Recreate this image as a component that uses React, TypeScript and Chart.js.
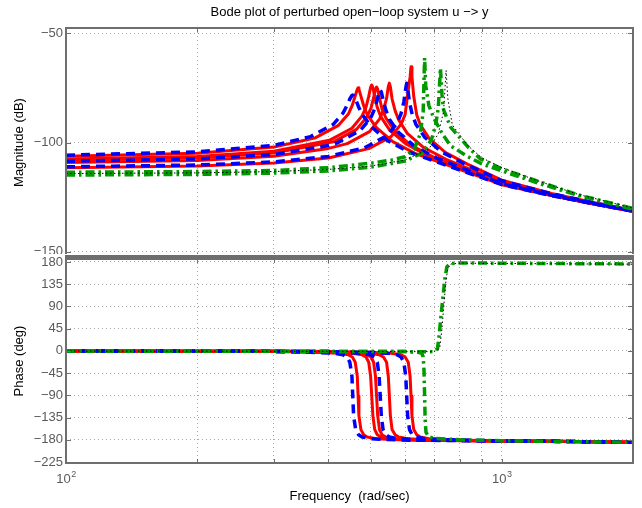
import React, { useEffect, useRef } from "react";
import { Chart, registerables } from "chart.js";

Chart.register(...registerables);

const FONT = '"Liberation Sans", Arial, Helvetica, sans-serif';

const TITLE = "Bode plot of perturbed open\u2212loop system u \u2212> y";
const MAG_LABEL = "Magnitude (dB)";
const PHASE_LABEL = "Phase (deg)";
const FREQ_LABEL = "Frequency  (rad/sec)";

// axis ticks
const freqTicks = [100, 200, 300, 400, 500, 600, 700, 800, 900, 1000, 2000];
const freqLabelTicks = [100, 1000];
const freqLabelExp = ["2", "3"];
const magTicks = [-150, -100, -50];
const phaseTicks = [-225, -180, -135, -90, -45, 0, 45, 90, 135, 180];
const freqRange = [100, 2000];
const magRange = [-152.4, -47.6];
const phaseRange = [-227, 186];

// common phase shape for the red / blue perturbed models
const phaseDrop21 = [-0.3, -0.6, -1.0, -2.8, -4.6, -8.0, -12.4, -23.0, -51.4, -91.3, -131.0, -159.4, -169.8, -174.3, -177.8, -179.6, -180.7, -182.3, -183.0, -184.0, -185.0];
const phaseDrop22 = [-0.3, -0.6, -1.0, -1.4, -2.8, -4.6, -8.0, -12.4, -23.0, -51.4, -91.3, -131.0, -159.4, -169.8, -174.3, -177.8, -179.6, -180.7, -182.3, -183.0, -184.0, -185.0];

// blue dashed models
const blue1Freq = [100, 200, 300, 364, 410, 432, 441, 448, 453, 455, 457, 462, 469, 478, 501, 546, 614, 1000, 1300, 1600, 2000];
const blue1Mag = [-105.8, -104.3, -101.3, -97.3, -91.8, -86.6, -83.2, -80.1, -78.5, -78.3, -78.6, -80.3, -83.6, -87.1, -92.6, -99.1, -104.5, -119.3, -124.3, -127.8, -131.4];
const blue2Freq = [100, 200, 300, 400, 421, 473, 500, 510, 518, 523, 526, 529, 534, 542, 552, 579, 631, 710, 1000, 1300, 1600, 2000];
const blue2Mag = [-108.6, -107.5, -105.5, -101.4, -100.0, -94.5, -88.9, -84.9, -80.3, -76.7, -76.0, -76.8, -80.5, -85.2, -89.3, -95.3, -101.8, -107.2, -118.8, -124.1, -127.7, -131.5];
const blue3Freq = [100, 200, 300, 400, 484, 545, 575, 587, 596, 602, 605, 608, 614, 623, 635, 666, 726, 817, 1000, 1300, 1600, 2000];
const blue3Mag = [-111.1, -110.3, -108.9, -106.4, -102.4, -96.9, -91.2, -86.9, -81.4, -75.2, -72.9, -75.2, -81.6, -87.2, -91.6, -97.7, -104.2, -109.6, -117.5, -123.4, -127.3, -131.2];

// red solid models
const red1Freq = [100, 200, 300, 374, 421, 445, 454, 461, 466, 468, 470, 475, 482, 491, 515, 562, 632, 1000, 1300, 1600, 2000];
const red1Mag = [-106.3, -104.9, -102.1, -97.8, -92.3, -86.8, -82.9, -78.6, -75.6, -75.0, -75.6, -78.8, -83.2, -87.2, -93.1, -99.6, -105.0, -119.3, -124.3, -127.9, -131.5];
const red2Freq = [100, 200, 300, 402, 453, 478, 488, 495, 500, 503, 506, 511, 518, 528, 553, 604, 679, 1000, 1300, 1600, 2000];
const red2Mag = [-107.5, -106.4, -104.0, -99.0, -93.5, -87.8, -83.8, -78.9, -74.7, -73.7, -74.8, -79.1, -84.0, -88.3, -94.3, -100.8, -106.2, -119.0, -124.2, -127.8, -131.5];
const red3Freq = [100, 200, 300, 413, 464, 490, 501, 508, 513, 516, 519, 524, 531, 542, 568, 619, 697, 1000, 1300, 1600, 2000];
const red3Mag = [-108.1, -107.0, -104.8, -99.5, -94.0, -88.4, -84.3, -79.5, -75.5, -74.6, -75.6, -79.7, -84.6, -88.8, -94.8, -101.3, -106.7, -118.9, -124.1, -127.8, -131.5];
const red4Freq = [100, 200, 300, 400, 442, 497, 524, 535, 544, 549, 552, 555, 560, 569, 580, 607, 662, 745, 1000, 1300, 1600, 2000];
const red4Mag = [-109.1, -108.2, -106.3, -102.7, -100.5, -95.0, -89.3, -85.1, -79.8, -74.4, -72.8, -74.5, -80.0, -85.4, -89.7, -95.8, -102.3, -107.7, -118.3, -123.8, -127.5, -131.3];
const red5Freq = [100, 200, 300, 400, 495, 557, 588, 600, 610, 616, 619, 622, 628, 638, 650, 681, 743, 836, 1000, 1300, 1600, 2000];
const red5Mag = [-111.5, -110.8, -109.4, -107.1, -102.8, -97.3, -91.5, -87.2, -76.0, -70.0, -65.3, -70.0, -79.0, -87.4, -91.9, -98.1, -104.6, -110.0, -117.2, -123.3, -127.2, -131.1];

// green dash-dot models
const green1Freq = [100, 200, 300, 400, 500, 560, 600, 630, 650, 660, 665, 669, 680, 697, 730, 763, 836, 900, 1000, 1200, 1500, 2000];
const green1Mag = [-113.6, -113.3, -112.8, -111.5, -109.5, -108.0, -106.5, -103.0, -96.0, -86.0, -61.3, -74.0, -83.0, -88.5, -96.0, -101.5, -106.5, -109.8, -113.0, -118.3, -124.3, -130.5];
const green1PhFreq = [100, 300, 500, 600, 640, 655, 660, 663, 665, 667, 670, 680, 700, 800, 1000, 1500, 2000];
const green1Phase = [-0.3, -1.0, -1.3, -1.5, -2.5, -5, -12, -40, -90, -140, -165, -174, -177, -180, -182, -184, -185];

const green2Freq = [100, 200, 300, 400, 500, 600, 660, 690, 705, 715, 723, 729, 735, 763, 836, 893, 1000, 1200, 1500, 2000];
const green2Mag = [-114.9, -114.6, -114.0, -113.0, -111.3, -108.5, -104.5, -98.5, -92.0, -84.0, -66.0, -78.0, -85.0, -93.0, -102.0, -107.5, -112.0, -117.5, -124.0, -130.2];
const green2PhFreq = [100, 300, 500, 650, 700, 712, 718, 725, 733, 740, 748, 760, 800, 1000, 1500, 2000];
const green2Phase = [-0.3, -0.8, -1.2, -1.6, -1.5, 5, 30, 70, 110, 145, 170, 176.5, 178, 177.5, 176.5, 176];

// black dotted model
const blackFreq = [100, 200, 300, 400, 500, 600, 680, 715, 735, 745, 752, 770, 836, 900, 1000, 1200, 1500, 2000];
const blackMag = [-114.2, -113.9, -113.3, -112.3, -110.8, -108.0, -103.0, -96.0, -86.0, -67.0, -80.0, -92.0, -101.5, -107.0, -111.5, -117.3, -123.8, -130.0];
const blackPhFreq = [100, 300, 500, 650, 700, 720, 728, 736, 744, 752, 765, 800, 1000, 1500, 2000];
const blackPhase = [-0.3, -0.8, -1.2, -1.6, -1.3, 5, 40, 90, 140, 168, 176, 177.5, 177, 176, 175.5];

type Kind = "red" | "blue" | "green" | "black";
const STYLES: Record<Kind, any> = {
  red: { borderColor: "#ff0000", borderWidth: 3, borderDash: [] },
  blue: { borderColor: "#0000ff", borderWidth: 3.5, borderDash: [9, 6] },
  green: { borderColor: "#009a00", borderWidth: 3.5, borderDash: [9, 4, 2.5, 4] },
  black: { borderColor: "#000000", borderWidth: 1, borderDash: [1.5, 2.5] },
};

// first entry is drawn on top
const SERIES: { kind: Kind; f: number[]; m: number[]; pf: number[]; p: number[] }[] = [
  { kind: "black", f: blackFreq, m: blackMag, pf: blackPhFreq, p: blackPhase },
  { kind: "green", f: green2Freq, m: green2Mag, pf: green2PhFreq, p: green2Phase },
  { kind: "green", f: green1Freq, m: green1Mag, pf: green1PhFreq, p: green1Phase },
  { kind: "blue", f: blue3Freq, m: blue3Mag, pf: blue3Freq, p: phaseDrop22 },
  { kind: "blue", f: blue2Freq, m: blue2Mag, pf: blue2Freq, p: phaseDrop22 },
  { kind: "blue", f: blue1Freq, m: blue1Mag, pf: blue1Freq, p: phaseDrop21 },
  { kind: "red", f: red5Freq, m: red5Mag, pf: red5Freq, p: phaseDrop22 },
  { kind: "red", f: red4Freq, m: red4Mag, pf: red4Freq, p: phaseDrop22 },
  { kind: "red", f: red3Freq, m: red3Mag, pf: red3Freq, p: phaseDrop21 },
  { kind: "red", f: red2Freq, m: red2Mag, pf: red2Freq, p: phaseDrop21 },
  { kind: "red", f: red1Freq, m: red1Mag, pf: red1Freq, p: phaseDrop21 },
];

const FRAME = "#6e6e6e";
const TICK_COLOR = "#5a5a5a";
const GRID = "#a8a8a8";

function pts(f: number[], v: number[]) {
  return f.map((x, i) => ({ x, y: v[i] }));
}

function datasets(which: "mag" | "phase") {
  return SERIES.map((s) => ({
    data: which === "mag" ? pts(s.f, s.m) : pts(s.pf, s.p),
    ...STYLES[s.kind],
    pointRadius: 0,
    fill: false,
    tension: 0,
    borderJoinStyle: "round",
    borderCapStyle: "butt",
  }));
}

function minus(v: number) {
  return v < 0 ? "\u2212" + Math.abs(v) : String(v);
}

function framePlugin(kind: "mag" | "phase") {
  return {
    id: "frame_" + kind,
    afterDraw(chart: any) {
      const { ctx, chartArea: a, scales } = chart;
      const xs = scales.x;
      const ys = scales.y;
      ctx.save();
      ctx.strokeStyle = FRAME;
      ctx.lineWidth = 1;
      for (const v of freqTicks) {
        const px = Math.round(xs.getPixelForValue(v)) + 0.5;
        ctx.beginPath();
        ctx.moveTo(px, a.bottom);
        ctx.lineTo(px, a.bottom - 4);
        ctx.moveTo(px, a.top);
        ctx.lineTo(px, a.top + 4);
        ctx.stroke();
      }
      const yt = kind === "mag" ? magTicks : phaseTicks;
      for (const v of yt) {
        const py = Math.round(ys.getPixelForValue(v)) + 0.5;
        ctx.beginPath();
        ctx.moveTo(a.left, py);
        ctx.lineTo(a.left + 5, py);
        ctx.moveTo(a.right, py);
        ctx.lineTo(a.right - 5, py);
        ctx.stroke();
      }
      ctx.lineWidth = 2;
      ctx.strokeRect(a.left, a.top, a.right - a.left, a.bottom - a.top);
      if (kind === "phase") {
        ctx.fillStyle = FRAME;
        ctx.fillRect(a.left - 1, a.top - 4, a.right - a.left + 2, 4);
      }
      ctx.fillStyle = "#000";
      ctx.font = `13px ${FONT}`;
      ctx.textBaseline = "alphabetic";
      ctx.textAlign = "center";
      const midY = (a.top + a.bottom) / 2;
      if (kind === "mag") {
        ctx.fillText(TITLE, (a.left + a.right) / 2, 16);
        ctx.save();
        ctx.translate(22.5, midY);
        ctx.rotate(-Math.PI / 2);
        ctx.fillText(MAG_LABEL, 0, 0);
        ctx.restore();
      } else {
        ctx.save();
        ctx.translate(22.5, midY);
        ctx.rotate(-Math.PI / 2);
        ctx.fillText(PHASE_LABEL, 0, 0);
        ctx.restore();
        ctx.fillText(FREQ_LABEL, (a.left + a.right) / 2, a.bottom + 37);
        ctx.fillStyle = TICK_COLOR;
        ctx.textAlign = "left";
        freqLabelTicks.forEach((v, i) => {
          const px = xs.getPixelForValue(v);
          ctx.font = `13px ${FONT}`;
          const w1 = ctx.measureText("10").width;
          ctx.font = `9px ${FONT}`;
          const w2 = ctx.measureText(freqLabelExp[i]).width;
          const x0 = px - (w1 + w2) / 2;
          ctx.font = `13px ${FONT}`;
          ctx.fillText("10", x0, a.bottom + 20);
          ctx.font = `9px ${FONT}`;
          ctx.fillText(freqLabelExp[i], x0 + w1 + 0.5, a.bottom + 14);
        });
      }
      ctx.restore();
    },
  };
}

function makeConfig(kind: "mag" | "phase") {
  const yTicks = kind === "mag" ? magTicks : phaseTicks;
  const yRange = kind === "mag" ? magRange : phaseRange;
  return {
    type: "line",
    data: { datasets: datasets(kind) },
    options: {
      animation: false,
      responsive: false,
      maintainAspectRatio: false,
      devicePixelRatio: 1,
      events: [],
      layout: {
        padding:
          kind === "mag"
            ? { top: 28, right: 9, bottom: 1, left: 0 }
            : { top: 5, right: 9, bottom: 45, left: 0 },
      },
      plugins: { legend: { display: false }, tooltip: { enabled: false }, title: { display: false } },
      scales: {
        x: {
          type: "logarithmic",
          min: freqRange[0],
          max: freqRange[1],
          afterBuildTicks: (s: any) => {
            s.ticks = freqTicks.map((v) => ({ value: v }));
          },
          afterFit: (s: any) => {
            s.height = 0;
            s.paddingLeft = 0;
            s.paddingRight = 0;
            s.paddingTop = 0;
            s.paddingBottom = 0;
          },
          ticks: { display: false },
          grid: { color: GRID, lineWidth: 1, drawTicks: false },
          border: { display: false, dash: [1, 3] },
        },
        y: {
          type: "linear",
          min: yRange[0],
          max: yRange[1],
          afterBuildTicks: (s: any) => {
            s.ticks = yTicks.map((v) => ({ value: v }));
          },
          afterFit: (s: any) => {
            s.width = 66;
            s.paddingTop = 0;
            s.paddingBottom = 0;
            s.paddingLeft = 0;
            s.paddingRight = 0;
          },
          ticks: {
            color: TICK_COLOR,
            font: { family: FONT, size: 13 },
            padding: 3,
            callback: (v: any) => minus(Number(v)),
          },
          grid: { color: GRID, lineWidth: 1, drawTicks: false },
          border: { display: false, dash: [1, 3] },
        },
      },
    },
    plugins: [framePlugin(kind)],
  } as any;
}

export default function App() {
  const topRef = useRef<HTMLCanvasElement>(null);
  const botRef = useRef<HTMLCanvasElement>(null);
  useEffect(() => {
    const c1 = new Chart(topRef.current as HTMLCanvasElement, makeConfig("mag"));
    const c2 = new Chart(botRef.current as HTMLCanvasElement, makeConfig("phase"));
    return () => {
      c1.destroy();
      c2.destroy();
    };
  }, []);
  return (
    <div style={{ position: "fixed", left: 0, top: 0, width: 642, height: 508, background: "#fff" }}>
      <canvas
        ref={topRef}
        width={642}
        height={258}
        style={{ position: "absolute", left: 0, top: 0, width: 642, height: 258 }}
      />
      <canvas
        ref={botRef}
        width={642}
        height={254}
        style={{ position: "absolute", left: 0, top: 254, width: 642, height: 254, background: "#fff" }}
      />
    </div>
  );
}
